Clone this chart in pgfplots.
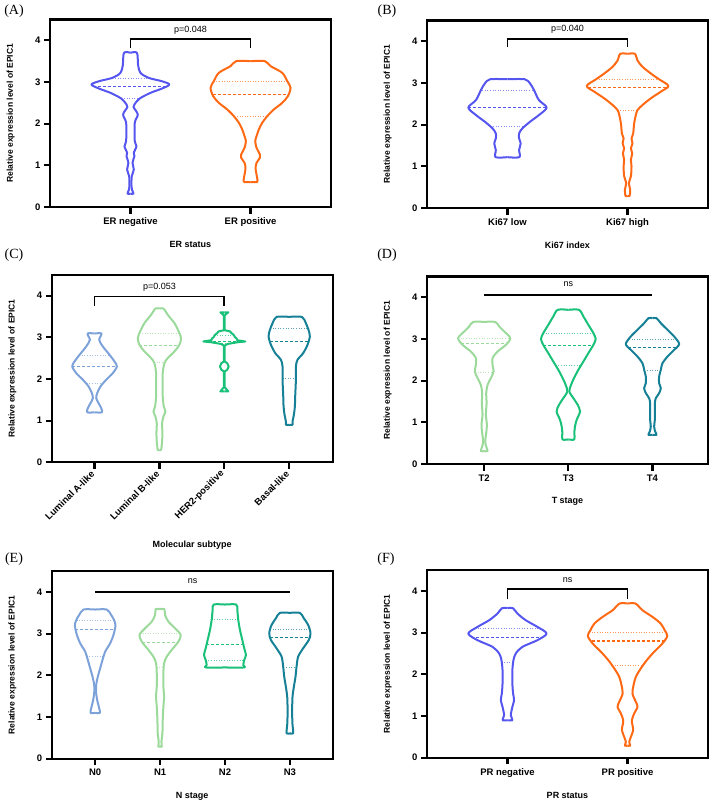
\documentclass[border=0pt]{standalone}
\usepackage{pgfplots}
\pgfplotsset{compat=1.18}
\usepackage{pgfplotstable}
\usepackage{fontspec}
\setmainfont{Liberation Sans}
\newfontfamily\panelfont{Liberation Serif}

\definecolor{cblue}{RGB}{85,85,240}
\definecolor{corange}{RGB}{255,105,20}
\definecolor{clumA}{RGB}{125,162,218}
\definecolor{clumB}{RGB}{155,218,155}
\definecolor{cher}{RGB}{25,192,120}
\definecolor{cbas}{RGB}{22,128,150}

\tikzset{sig/.style={font=\fontsize{9}{11}\selectfont}}
\pgfplotsset{
  vstyle/.style={
    scale only axis, width=281pt, height=187.5pt,
    ymin=0, ymax=4.5, ytick={0,1,2,3,4},
    axis line style={draw=none}, major tick length=0pt,
    xtick pos=bottom, ytick pos=left, clip=false,
    /pgf/number format/assume math mode=true,
    ticklabel style={font=\bfseries\fontsize{9.5}{11}\selectfont},
    xticklabel style={yshift=-7pt},
    yticklabel style={xshift=-6pt},
    ylabel={Relative expression level of EPIC1},
    ylabel style={font=\bfseries\fontsize{8.5}{10}\selectfont, at={(axis description cs:-0.14,0.5)}, anchor=center},
    xlabel style={font=\bfseries\fontsize{9}{11}\selectfont, at={(axis description cs:0.5,-0.2)}, anchor=center},
    anchor=south west,
  },
  vio/.style={line width=2pt, smooth, tension=0.5, line join=round, no marks},
  med/.style={line width=1.1pt, dash pattern=on 3pt off 2pt, no marks},
  qrt/.style={line width=1pt, dash pattern=on 1pt off 1.6pt, opacity=0.7, no marks},
  brk/.style={black, line width=1.8pt, no marks},
  frm/.style={black, line width=2.2pt, no marks, line join=miter},
}
\newcommand{\violin}[4][]{%
  \addplot[#4, vio, #1] table[x expr=#2+\thisrow{w}, y=y]{#3};
  \addplot[#4, vio, #1] table[x expr=#2-\thisrow{w}, y=y]{#3};
}
% axis frame and outside ticks, drawn through the axis: #1 xmin, #2 xmax, #3 x ticks, #4 tick depth in x units
\newcommand{\frameticks}[4]{%
  \addplot[frm] coordinates {(#1,0) (#2,0) (#2,4.5) (#1,4.5)} -- cycle;
  \pgfplotsinvokeforeach{#3}{\addplot[frm] coordinates {(##1,0) (##1,-0.16)};}
  \pgfplotsinvokeforeach{0,1,2,3,4}{\addplot[frm] coordinates {(#1,##1) (#1-#4,##1)};}
}

% ---------------- Panel A ----------------
\pgfplotstableread[row sep=\\]{
y w\\ 0.32 0\\ 0.32 0.025\\ 0.42 0.012\\ 0.52 0.008\\ 0.74 0.011\\ 0.90 0.028\\ 1.06 0.017\\ 1.22 0.033\\ 1.30 0.028\\ 1.46 0.050\\ 1.58 0.036\\ 2.02 0.036\\ 2.22 0.061\\ 2.40 0.025\\ 2.46 0.033\\ 2.60 0.075\\ 2.74 0.167\\ 2.84 0.26\\ 2.94 0.325\\ 3.02 0.26\\ 3.10 0.15\\ 3.22 0.083\\ 3.40 0.064\\ 3.70 0.054\\ 3.70 0\\
}\tAa
\pgfplotstableread[row sep=\\]{
y w\\ 0.60 0\\ 0.60 0.055\\ 0.70 0.055\\ 0.82 0.047\\ 0.94 0.042\\ 1.06 0.050\\ 1.18 0.078\\ 1.26 0.078\\ 1.42 0.050\\ 1.58 0.039\\ 1.70 0.050\\ 1.86 0.069\\ 2.02 0.097\\ 2.18 0.139\\ 2.34 0.194\\ 2.50 0.264\\ 2.66 0.311\\ 2.86 0.333\\ 3.02 0.306\\ 3.22 0.264\\ 3.38 0.167\\ 3.50 0.120\\ 3.50 0\\
}\tAb
% ---------------- Panel B ----------------
\pgfplotstableread[row sep=\\]{
y w\\ 1.22 0\\ 1.22 0.099\\ 1.39 0.097\\ 1.55 0.110\\ 1.67 0.097\\ 1.79 0.097\\ 1.91 0.124\\ 2.07 0.188\\ 2.23 0.262\\ 2.41 0.326\\ 2.59 0.262\\ 2.83 0.221\\ 2.99 0.188\\ 3.09 0.144\\ 3.09 0\\
}\tBa
\pgfplotstableread[row sep=\\]{
y w\\ 0.29 0\\ 0.29 0.017\\ 0.44 0.022\\ 0.60 0.011\\ 0.76 0.028\\ 1.00 0.033\\ 1.16 0.028\\ 1.31 0.039\\ 1.43 0.028\\ 1.55 0.041\\ 1.67 0.033\\ 1.79 0.047\\ 2.03 0.055\\ 2.23 0.069\\ 2.35 0.083\\ 2.47 0.124\\ 2.63 0.193\\ 2.79 0.276\\ 2.93 0.340\\ 3.09 0.262\\ 3.23 0.193\\ 3.39 0.124\\ 3.54 0.083\\ 3.70 0.061\\ 3.70 0\\
}\tBb
% ---------------- Panel C ----------------
\pgfplotstableread[row sep=\\]{
y w\\ 1.20 0\\ 1.20 0.113\\ 1.30 0.103\\ 1.42 0.062\\ 1.54 0.026\\ 1.66 0.041\\ 1.82 0.092\\ 1.98 0.179\\ 2.14 0.282\\ 2.30 0.344\\ 2.42 0.308\\ 2.58 0.231\\ 2.78 0.128\\ 2.94 0.072\\ 3.09 0.108\\ 3.09 0\\
}\tCa
\pgfplotstableread[row sep=\\]{
y w\\ 0.30 0\\ 0.30 0.026\\ 0.50 0.041\\ 0.70 0.046\\ 0.94 0.041\\ 1.10 0.062\\ 1.22 0.092\\ 1.34 0.067\\ 1.58 0.051\\ 1.82 0.051\\ 2.14 0.051\\ 2.38 0.077\\ 2.50 0.128\\ 2.66 0.231\\ 2.82 0.308\\ 2.98 0.333\\ 3.14 0.297\\ 3.34 0.231\\ 3.54 0.128\\ 3.69 0.062\\ 3.69 0\\
}\tCb
\pgfplotstableread[row sep=\\]{
y w\\ 1.70 0\\ 1.70 0.062\\ 1.76 0.030\\ 1.80 0.006\\ 2.18 0.006\\ 2.22 0.045\\ 2.30 0.067\\ 2.38 0.045\\ 2.42 0.006\\ 2.80 0.006\\ 2.84 0.05\\ 2.88 0.20\\ 2.90 0.323\\ 2.93 0.20\\ 2.97 0.19\\ 3.01 0.16\\ 3.05 0.15\\ 3.10 0.11\\ 3.14 0.09\\ 3.17 0.006\\ 3.52 0.006\\ 3.56 0.03\\ 3.60 0.062\\ 3.60 0\\
}\tCc
\pgfplotstableread[row sep=\\]{
y w\\ 0.90 0\\ 0.90 0.051\\ 0.98 0.051\\ 1.14 0.072\\ 1.34 0.087\\ 1.58 0.092\\ 1.98 0.103\\ 2.30 0.103\\ 2.46 0.128\\ 2.62 0.215\\ 2.82 0.282\\ 3.02 0.318\\ 3.18 0.297\\ 3.34 0.256\\ 3.49 0.195\\ 3.49 0\\
}\tCd
% ---------------- Panel D ----------------
\pgfplotstableread[row sep=\\]{
y w\\ 0.31 0\\ 0.31 0.040\\ 0.42 0.024\\ 0.54 0.012\\ 0.74 0.024\\ 0.94 0.032\\ 1.18 0.020\\ 1.46 0.028\\ 1.70 0.024\\ 1.90 0.040\\ 2.06 0.079\\ 2.22 0.111\\ 2.38 0.099\\ 2.54 0.099\\ 2.70 0.159\\ 2.86 0.258\\ 3.02 0.310\\ 3.18 0.238\\ 3.30 0.179\\ 3.41 0.131\\ 3.41 0\\
}\tDa
\pgfplotstableread[row sep=\\]{
y w\\ 0.59 0\\ 0.59 0.071\\ 0.74 0.071\\ 0.90 0.079\\ 1.06 0.099\\ 1.26 0.139\\ 1.42 0.111\\ 1.58 0.060\\ 1.74 0.012\\ 1.90 0.032\\ 2.06 0.067\\ 2.26 0.119\\ 2.46 0.179\\ 2.66 0.238\\ 2.86 0.298\\ 3.00 0.325\\ 3.14 0.298\\ 3.34 0.238\\ 3.54 0.179\\ 3.70 0.127\\ 3.70 0\\
}\tDb
\pgfplotstableread[row sep=\\]{
y w\\ 0.70 0\\ 0.70 0.048\\ 0.78 0.032\\ 0.90 0.020\\ 1.06 0.028\\ 1.26 0.028\\ 1.46 0.028\\ 1.58 0.040\\ 1.70 0.079\\ 1.82 0.099\\ 1.94 0.079\\ 2.10 0.079\\ 2.26 0.099\\ 2.42 0.119\\ 2.58 0.179\\ 2.74 0.258\\ 2.88 0.317\\ 3.06 0.258\\ 3.22 0.179\\ 3.38 0.099\\ 3.50 0.048\\ 3.50 0\\
}\tDc
% ---------------- Panel E ----------------
\pgfplotstableread[row sep=\\]{
y w\\ 1.10 0\\ 1.10 0.072\\ 1.21 0.062\\ 1.37 0.036\\ 1.57 0.015\\ 1.77 0.015\\ 1.97 0.041\\ 2.17 0.077\\ 2.37 0.113\\ 2.57 0.154\\ 2.77 0.231\\ 2.97 0.282\\ 3.20 0.313\\ 3.33 0.290\\ 3.45 0.246\\ 3.58 0.179\\ 3.58 0\\
}\tEa
\pgfplotstableread[row sep=\\]{
y w\\ 0.29 0\\ 0.29 0.026\\ 0.41 0.021\\ 0.61 0.036\\ 0.93 0.041\\ 1.25 0.051\\ 1.49 0.062\\ 1.73 0.051\\ 2.05 0.051\\ 2.29 0.062\\ 2.45 0.103\\ 2.61 0.179\\ 2.81 0.282\\ 2.97 0.318\\ 3.13 0.231\\ 3.29 0.128\\ 3.45 0.077\\ 3.59 0.067\\ 3.59 0\\
}\tEb
\pgfplotstableread[row sep=\\]{
y w\\ 2.19 0\\ 2.19 0.292\\ 2.25 0.282\\ 2.37 0.297\\ 2.49 0.323\\ 2.65 0.297\\ 2.85 0.267\\ 3.09 0.231\\ 3.33 0.205\\ 3.57 0.190\\ 3.70 0.174\\ 3.70 0\\
}\tEc
\pgfplotstableread[row sep=\\]{
y w\\ 0.61 0\\ 0.61 0.051\\ 0.81 0.041\\ 1.01 0.036\\ 1.25 0.036\\ 1.49 0.041\\ 1.73 0.062\\ 1.97 0.087\\ 2.21 0.103\\ 2.45 0.128\\ 2.65 0.205\\ 2.85 0.292\\ 3.01 0.318\\ 3.21 0.282\\ 3.37 0.215\\ 3.50 0.154\\ 3.50 0\\
}\tEd
% ---------------- Panel F ----------------
\pgfplotstableread[row sep=\\]{
y w\\ 0.90 0\\ 0.90 0.041\\ 1.02 0.028\\ 1.22 0.041\\ 1.38 0.055\\ 1.54 0.047\\ 1.78 0.041\\ 2.10 0.041\\ 2.34 0.050\\ 2.50 0.069\\ 2.66 0.124\\ 2.82 0.249\\ 2.98 0.326\\ 3.14 0.249\\ 3.30 0.152\\ 3.46 0.083\\ 3.59 0.045\\ 3.59 0\\
}\tFa
\pgfplotstableread[row sep=\\]{
y w\\ 0.29 0\\ 0.29 0.022\\ 0.38 0.014\\ 0.50 0.028\\ 0.66 0.047\\ 0.78 0.041\\ 0.90 0.036\\ 1.06 0.055\\ 1.22 0.083\\ 1.34 0.069\\ 1.54 0.041\\ 1.74 0.050\\ 1.94 0.069\\ 2.14 0.110\\ 2.34 0.160\\ 2.54 0.221\\ 2.74 0.290\\ 2.92 0.331\\ 3.06 0.309\\ 3.22 0.276\\ 3.38 0.207\\ 3.54 0.124\\ 3.70 0.066\\ 3.70 0\\
}\tFb

\begin{document}
\begin{tikzpicture}
\path[use as bounding box] (0pt,0pt) rectangle (712pt,804pt);

\node[font=\panelfont\fontsize{14}{16}\selectfont] at (14pt,793pt) {(A)};
\node[font=\panelfont\fontsize{14}{16}\selectfont] at (387pt,793pt) {(B)};
\node[font=\panelfont\fontsize{14}{16}\selectfont] at (14pt,549pt) {(C)};
\node[font=\panelfont\fontsize{14}{16}\selectfont] at (387pt,549pt) {(D)};
\node[font=\panelfont\fontsize{14}{16}\selectfont] at (14pt,245pt) {(E)};
\node[font=\panelfont\fontsize{14}{16}\selectfont] at (386pt,245pt) {(F)};

% ===== A =====
\begin{axis}[vstyle, at={(50pt,597pt)}, xmin=-0.67, xmax=1.67,
  xtick={0,1}, xticklabels={ER negative,ER positive}, xlabel={ER status}]
\violin{0}{\tAa}{cblue}
\violin{1}{\tAb}{corange}
\addplot[cblue, med] coordinates {(-0.31,2.90) (0.31,2.90)};
\addplot[cblue, qrt] coordinates {(-0.15,3.09) (0.15,3.09)};
\addplot[cblue, qrt] coordinates {(-0.075,2.60) (0.075,2.60)};
\addplot[corange, med] coordinates {(0.685,2.69) (1.315,2.69)};
\addplot[corange, qrt] coordinates {(0.694,3.02) (1.306,3.02)};
\addplot[corange, qrt] coordinates {(0.866,2.16) (1.134,2.16)};
\addplot[brk] coordinates {(0,3.82) (0,4.04) (1,4.04) (1,3.82)};
\node[sig] at (axis cs:0.5,4.25) {p=0.048};
\frameticks{-0.67}{1.67}{0,1}{0.05}
\end{axis}

% ===== B =====
\begin{axis}[vstyle, at={(427pt,596pt)}, xmin=-0.67, xmax=1.67,
  xtick={0,1}, xticklabels={Ki67 low,Ki67 high}, xlabel={Ki67 index}]
\violin{0}{\tBa}{cblue}
\violin{1}{\tBb}{corange}
\addplot[cblue, med] coordinates {(-0.326,2.41) (0.326,2.41)};
\addplot[cblue, qrt] coordinates {(-0.21,2.81) (0.21,2.81)};
\addplot[cblue, qrt] coordinates {(-0.14,1.95) (0.14,1.95)};
\addplot[corange, med] coordinates {(0.67,2.89) (1.33,2.89)};
\addplot[corange, qrt] coordinates {(0.738,3.09) (1.262,3.09)};
\addplot[corange, qrt] coordinates {(0.917,2.35) (1.083,2.35)};
\addplot[brk] coordinates {(0,3.86) (0,4.06) (1,4.06) (1,3.86)};
\node[sig] at (axis cs:0.5,4.30) {p=0.040};
\frameticks{-0.67}{1.67}{0,1}{0.05}
\end{axis}

% ===== C =====
\begin{axis}[vstyle, at={(51.7pt,341.7pt)}, xmin=-0.66, xmax=3.67,
  xtick={0,1,2,3}, xticklabels={Luminal A-like,Luminal B-like,HER2-positive,Basal-like},
  xticklabel style={rotate=45, anchor=east, yshift=-1pt},
  xlabel={Molecular subtype},
  xlabel style={at={(axis description cs:0.5,-0.443)}}]
\violin{0}{\tCa}{clumA}
\violin{1}{\tCb}{clumB}
\violin[sharp plot]{2}{\tCc}{cher}
\violin{3}{\tCd}{cbas}
\addplot[clumA, med] coordinates {(-0.344,2.30) (0.344,2.30)};
\addplot[clumA, qrt] coordinates {(-0.235,2.57) (0.235,2.57)};
\addplot[clumA, qrt] coordinates {(-0.12,1.88) (0.12,1.88)};
\addplot[clumB, med] coordinates {(0.69,2.80) (1.31,2.80)};
\addplot[clumB, qrt] coordinates {(0.69,3.09) (1.31,3.09)};
\addplot[clumB, qrt] coordinates {(0.915,2.40) (1.085,2.40)};
\addplot[cher, med] coordinates {(1.75,2.89) (2.25,2.89)};
\addplot[cher, qrt] coordinates {(1.85,3.05) (2.15,3.05)};
\addplot[cher, qrt] coordinates {(1.93,2.85) (2.07,2.85)};
\addplot[cbas, med] coordinates {(2.70,2.89) (3.30,2.89)};
\addplot[cbas, qrt] coordinates {(2.705,3.20) (3.295,3.20)};
\addplot[cbas, qrt] coordinates {(2.897,2.00) (3.103,2.00)};
\addplot[brk] coordinates {(0,3.76) (0,3.98) (2,3.98) (2,3.76)};
\node[sig] at (axis cs:1,4.21) {p=0.053};
\frameticks{-0.66}{3.67}{0,1,2,3}{0.0925}
\end{axis}

% ===== D =====
\begin{axis}[vstyle, at={(427pt,340pt)}, xmin=-0.68, xmax=2.66,
  xtick={0,1,2}, xticklabels={T2,T3,T4}, xlabel={T stage}]
\violin{0}{\tDa}{clumB}
\violin{1}{\tDb}{cher}
\violin{2}{\tDc}{cbas}
\addplot[clumB, med] coordinates {(-0.27,2.90) (0.27,2.90)};
\addplot[clumB, qrt] coordinates {(-0.31,3.01) (0.31,3.01)};
\addplot[clumB, qrt] coordinates {(-0.11,2.19) (0.11,2.19)};
\addplot[cher, med] coordinates {(0.70,2.85) (1.30,2.85)};
\addplot[cher, qrt] coordinates {(0.70,3.13) (1.30,3.13)};
\addplot[cher, qrt] coordinates {(0.85,2.37) (1.15,2.37)};
\addplot[cbas, med] coordinates {(1.71,2.80) (2.29,2.80)};
\addplot[cbas, qrt] coordinates {(1.72,3.00) (2.28,3.00)};
\addplot[cbas, qrt] coordinates {(1.903,2.24) (2.097,2.24)};
\addplot[brk] coordinates {(0,4.06) (2,4.06)};
\node[sig] at (axis cs:1,4.32) {ns};
\frameticks{-0.68}{2.66}{0,1,2}{0.0713}
\end{axis}

% ===== E =====
\begin{axis}[vstyle, at={(51.7pt,45.3pt)}, xmin=-0.67, xmax=3.66,
  xtick={0,1,2,3}, xticklabels={N0,N1,N2,N3}, xlabel={N stage}]
\violin{0}{\tEa}{clumA}
\violin{1}{\tEb}{clumB}
\violin{2}{\tEc}{cher}
\violin{3}{\tEd}{cbas}
\addplot[clumA, med] coordinates {(-0.31,3.10) (0.31,3.10)};
\addplot[clumA, qrt] coordinates {(-0.285,3.32) (0.285,3.32)};
\addplot[clumA, qrt] coordinates {(-0.13,2.45) (0.13,2.45)};
\addplot[clumB, med] coordinates {(0.725,2.79) (1.275,2.79)};
\addplot[clumB, qrt] coordinates {(0.69,3.00) (1.31,3.00)};
\addplot[clumB, qrt] coordinates {(0.945,2.18) (1.055,2.18)};
\addplot[cher, med] coordinates {(1.715,2.74) (2.285,2.74)};
\addplot[cher, qrt] coordinates {(1.795,3.33) (2.205,3.33)};
\addplot[cher, qrt] coordinates {(1.705,2.35) (2.295,2.35)};
\addplot[cbas, med] coordinates {(2.69,2.90) (3.31,2.90)};
\addplot[cbas, qrt] coordinates {(2.695,3.10) (3.305,3.10)};
\addplot[cbas, qrt] coordinates {(2.90,2.19) (3.10,2.19)};
\addplot[brk] coordinates {(0,4.01) (3,4.01)};
\node[sig] at (axis cs:1.5,4.25) {ns};
\frameticks{-0.67}{3.66}{0,1,2,3}{0.0925}
\end{axis}

% ===== F =====
\begin{axis}[vstyle, at={(427pt,46.3pt)}, xmin=-0.67, xmax=1.67,
  xtick={0,1}, xticklabels={PR negative,PR positive}, xlabel={PR status}]
\violin{0}{\tFa}{cblue}
\violin{1}{\tFb}{corange}
\addplot[cblue, med] coordinates {(-0.30,2.89) (0.30,2.89)};
\addplot[cblue, qrt] coordinates {(-0.27,3.10) (0.27,3.10)};
\addplot[cblue, qrt] coordinates {(-0.048,2.28) (0.048,2.28)};
\addplot[corange, med] coordinates {(0.70,2.80) (1.30,2.80)};
\addplot[corange, qrt] coordinates {(0.68,3.00) (1.32,3.00)};
\addplot[corange, qrt] coordinates {(0.87,2.22) (1.13,2.22)};
\addplot[brk] coordinates {(0,3.80) (0,4.04) (1,4.04) (1,3.80)};
\node[sig] at (axis cs:0.5,4.26) {ns};
\frameticks{-0.67}{1.67}{0,1}{0.05}
\end{axis}
\end{tikzpicture}
\end{document}
